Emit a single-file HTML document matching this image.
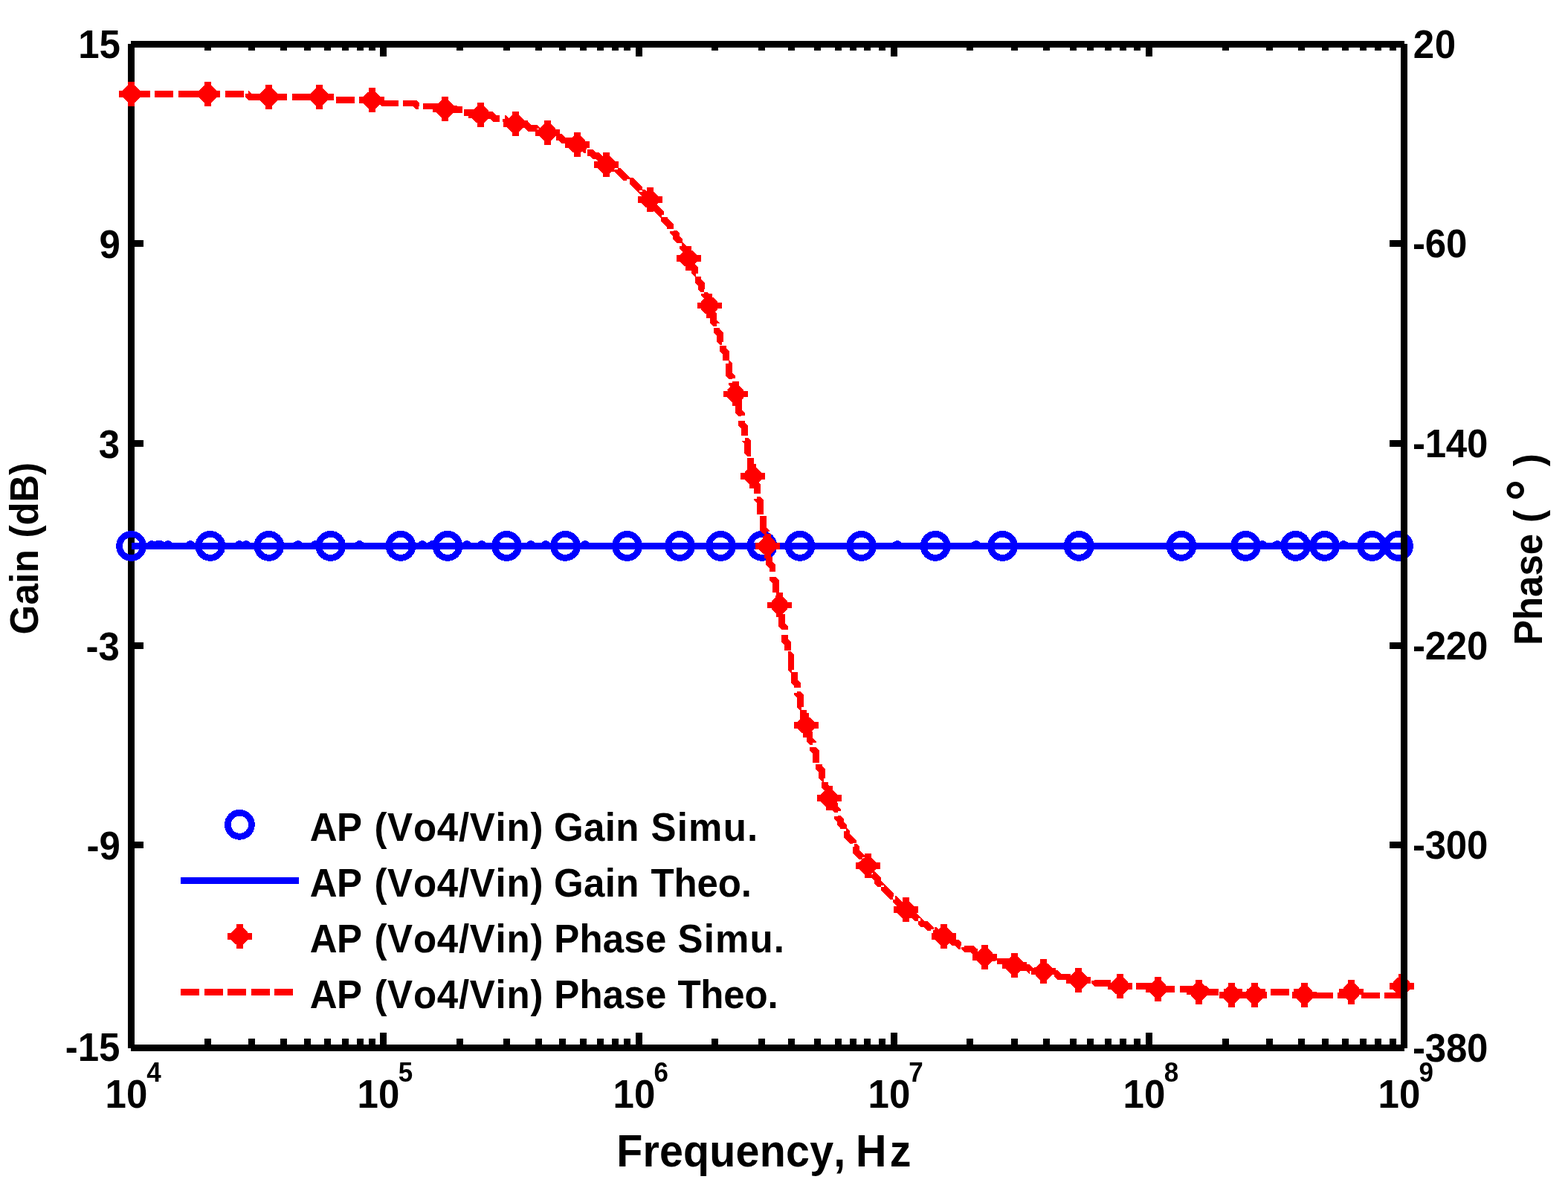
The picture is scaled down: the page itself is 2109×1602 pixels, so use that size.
<!DOCTYPE html>
<html lang="en"><head><meta charset="utf-8"><title>AP (Vo4/Vin) Gain and Phase</title>
<style>
html,body{margin:0;padding:0;background:#fff;}
body{width:2109px;height:1602px;overflow:hidden;}
svg{display:block;}
text{font-family:"Liberation Sans",Arial,Helvetica,sans-serif;font-weight:bold;fill:#000;font-kerning:none;white-space:pre;}
.blk{fill:#000;}
</style></head><body>
<svg width="2109" height="1602" viewBox="0 0 2109 1602" shape-rendering="crispEdges">
<rect x="0" y="0" width="2109" height="1602" fill="#fff"/>
<g class="blk" shape-rendering="crispEdges">
<rect x="172" y="59" width="9" height="1351"/>
<rect x="176" y="55" width="1713" height="9"/>
<rect x="176" y="1405" width="1713" height="9"/>
<rect x="275" y="63" width="9" height="5"/>
<rect x="275" y="1397" width="9" height="9"/>
<rect x="334" y="63" width="9" height="5"/>
<rect x="334" y="1397" width="9" height="9"/>
<rect x="377" y="63" width="9" height="5"/>
<rect x="377" y="1397" width="9" height="9"/>
<rect x="409" y="63" width="9" height="5"/>
<rect x="409" y="1397" width="9" height="9"/>
<rect x="436" y="63" width="9" height="5"/>
<rect x="436" y="1397" width="9" height="9"/>
<rect x="460" y="63" width="9" height="5"/>
<rect x="460" y="1397" width="9" height="9"/>
<rect x="480" y="63" width="9" height="5"/>
<rect x="480" y="1397" width="9" height="9"/>
<rect x="496" y="63" width="9" height="5"/>
<rect x="496" y="1397" width="9" height="9"/>
<rect x="614" y="63" width="9" height="5"/>
<rect x="614" y="1397" width="9" height="9"/>
<rect x="677" y="63" width="9" height="5"/>
<rect x="677" y="1397" width="9" height="9"/>
<rect x="720" y="63" width="9" height="5"/>
<rect x="720" y="1397" width="9" height="9"/>
<rect x="752" y="63" width="9" height="5"/>
<rect x="752" y="1397" width="9" height="9"/>
<rect x="780" y="63" width="9" height="5"/>
<rect x="780" y="1397" width="9" height="9"/>
<rect x="803" y="63" width="9" height="5"/>
<rect x="803" y="1397" width="9" height="9"/>
<rect x="823" y="63" width="9" height="5"/>
<rect x="823" y="1397" width="9" height="9"/>
<rect x="839" y="63" width="9" height="5"/>
<rect x="839" y="1397" width="9" height="9"/>
<rect x="957" y="63" width="9" height="5"/>
<rect x="957" y="1397" width="9" height="9"/>
<rect x="1020" y="63" width="9" height="5"/>
<rect x="1020" y="1397" width="9" height="9"/>
<rect x="1060" y="63" width="9" height="5"/>
<rect x="1060" y="1397" width="9" height="9"/>
<rect x="1095" y="63" width="9" height="5"/>
<rect x="1095" y="1397" width="9" height="9"/>
<rect x="1123" y="63" width="9" height="5"/>
<rect x="1123" y="1397" width="9" height="9"/>
<rect x="1143" y="63" width="9" height="5"/>
<rect x="1143" y="1397" width="9" height="9"/>
<rect x="1162" y="63" width="9" height="5"/>
<rect x="1162" y="1397" width="9" height="9"/>
<rect x="1182" y="63" width="9" height="5"/>
<rect x="1182" y="1397" width="9" height="9"/>
<rect x="1300" y="63" width="9" height="5"/>
<rect x="1300" y="1397" width="9" height="9"/>
<rect x="1360" y="63" width="9" height="5"/>
<rect x="1360" y="1397" width="9" height="9"/>
<rect x="1403" y="63" width="9" height="5"/>
<rect x="1403" y="1397" width="9" height="9"/>
<rect x="1439" y="63" width="9" height="5"/>
<rect x="1439" y="1397" width="9" height="9"/>
<rect x="1462" y="63" width="9" height="5"/>
<rect x="1462" y="1397" width="9" height="9"/>
<rect x="1486" y="63" width="9" height="5"/>
<rect x="1486" y="1397" width="9" height="9"/>
<rect x="1506" y="63" width="9" height="5"/>
<rect x="1506" y="1397" width="9" height="9"/>
<rect x="1525" y="63" width="9" height="5"/>
<rect x="1525" y="1397" width="9" height="9"/>
<rect x="1644" y="63" width="9" height="5"/>
<rect x="1644" y="1397" width="9" height="9"/>
<rect x="1703" y="63" width="9" height="5"/>
<rect x="1703" y="1397" width="9" height="9"/>
<rect x="1746" y="63" width="9" height="5"/>
<rect x="1746" y="1397" width="9" height="9"/>
<rect x="1778" y="63" width="9" height="5"/>
<rect x="1778" y="1397" width="9" height="9"/>
<rect x="1805" y="63" width="9" height="5"/>
<rect x="1805" y="1397" width="9" height="9"/>
<rect x="1829" y="63" width="9" height="5"/>
<rect x="1829" y="1397" width="9" height="9"/>
<rect x="1849" y="63" width="9" height="5"/>
<rect x="1849" y="1397" width="9" height="9"/>
<rect x="1869" y="63" width="9" height="5"/>
<rect x="1869" y="1397" width="9" height="9"/>
<rect x="511" y="63" width="9" height="13"/>
<rect x="511" y="1389" width="9" height="17"/>
<rect x="855" y="63" width="9" height="13"/>
<rect x="855" y="1389" width="9" height="17"/>
<rect x="1198" y="63" width="9" height="13"/>
<rect x="1198" y="1389" width="9" height="17"/>
<rect x="1541" y="63" width="9" height="13"/>
<rect x="1541" y="1389" width="9" height="17"/>
<rect x="180" y="323" width="13" height="9"/>
<rect x="180" y="592" width="13" height="9"/>
<rect x="180" y="864" width="13" height="9"/>
<rect x="180" y="1132" width="13" height="9"/>
</g>
<g fill="none" stroke="#0000ff" stroke-width="8.8">
<line x1="176.5" y1="734.4" x2="1888.5" y2="734.4"/>
<path d="M199.5 734.4l4 -3h1l4 3M207.5 734.4l4 -3h1l4 3M211.5 734.4l4 -3h1l4 3M221.5 734.4l4 -3h1l4 3M251.5 734.4l4 -3h1l4 3M317.5 734.4l4 -3h1l4 3M326.5 734.4l4 -3h1l4 3M396.1 734.4l4 -3h1l4 3M419.5 734.4l4 -3h1l4 3M479 734.4l4 -3h1l4 3M563.5 734.4l4 -3h1l4 3M577 734.4l4 -3h1l4 3M623.5 734.4l4 -3h1l4 3M643.5 734.4l4 -3h1l4 3M663.5 734.4l4 -3h1l4 3M709.5 734.4l4 -3h1l4 3M729.5 734.4l4 -3h1l4 3M782.5 734.4l4 -3h1l4 3M1202.1 734.4l4 -3h1l4 3M1308.3 734.4l4 -3h1l4 3M1693.3 734.4l4 -3h1l4 3M1713.2 734.4l4 -3h1l4 3M1802.9 734.4l4 -3h1l4 3" stroke-linejoin="bevel"/>
<circle cx="176.6" cy="734.4" r="16"/>
<circle cx="282.8" cy="734.4" r="16"/>
<circle cx="361.8" cy="734.4" r="16"/>
<circle cx="444.7" cy="734.4" r="16"/>
<circle cx="539" cy="734.4" r="16"/>
<circle cx="602" cy="734.4" r="16"/>
<circle cx="681.4" cy="734.4" r="16"/>
<circle cx="760.4" cy="734.4" r="16"/>
<circle cx="843.5" cy="734.4" r="16"/>
<circle cx="914.4" cy="734.4" r="16"/>
<circle cx="969.4" cy="734.4" r="16"/>
<circle cx="1024.8" cy="734.4" r="16"/>
<circle cx="1076" cy="734.4" r="16"/>
<circle cx="1158.5" cy="734.4" r="16"/>
<circle cx="1258.1" cy="734.4" r="16"/>
<circle cx="1348.4" cy="734.4" r="16"/>
<circle cx="1451.2" cy="734.4" r="16"/>
<circle cx="1589" cy="734.4" r="16"/>
<circle cx="1675.6" cy="734.4" r="16"/>
<circle cx="1742.7" cy="734.4" r="16"/>
<circle cx="1781.5" cy="734.4" r="16"/>
<circle cx="1845.5" cy="734.4" r="16"/>
<circle cx="1880.4" cy="734.4" r="16"/>
</g>
<path d="M176.5 126.4 L334.83 126.4 L334.83 130.57 L451.5 130.57 L451.5 134.73 L514 134.73 L514 138.9 L559.83 138.9 L559.83 143.07 L593.17 143.07 L593.17 147.23 L622.33 147.23 L622.33 151.4 L643.17 151.4 L643.17 155.57 L664 155.57 L664 159.73 L680.67 159.73 L680.67 163.9 L697.33 163.9 L697.33 168.07 L709.83 168.07 L709.83 172.23 L722.33 172.23 L722.33 176.4 L734.83 176.4 L734.83 180.57 L747.33 180.57 L747.33 184.73 L755.67 184.73 L755.67 188.9 L768.17 188.9 L768.17 193.07 L776.5 193.07 L776.5 197.23 L784.83 197.23 L784.83 201.4 L789 201.4 L789 205.57 L797.33 205.57 L797.33 209.73 L805.67 209.73 L805.67 213.9 L809.83 213.9 L809.83 218.07 L818.17 218.07 L818.17 222.23 L822.33 222.23 L822.33 226.4 L830.67 226.4 L830.67 230.57 L834.83 230.57 L834.83 234.73 L839 234.73 L839 238.9 L843.17 238.9 L843.17 243.07 L851.5 243.07 L851.5 247.23 L855.67 247.23 L855.67 251.4 L859.83 251.4 L859.83 255.57 L864 255.57 L864 259.73 L868.17 259.73 L868.17 263.9 L872.33 263.9 L872.33 272.23 L876.5 272.23 L876.5 276.4 L880.67 276.4 L880.67 280.57 L884.83 280.57 L884.83 284.73 L889 284.73 L889 288.9 L893.17 288.9 L893.17 297.23 L897.33 297.23 L897.33 301.4 L901.5 301.4 L901.5 309.73 L905.67 309.73 L905.67 313.9 L909.83 313.9 L909.83 322.23 L914 322.23 L914 330.57 L918.17 330.57 L918.17 334.73 L922.33 334.73 L922.33 343.07 L926.5 343.07 L926.5 351.4 L930.67 351.4 L930.67 359.73 L934.83 359.73 L934.83 368.07 L939 368.07 L939 380.57 L943.17 380.57 L943.17 388.9 L947.33 388.9 L947.33 397.23 L951.5 397.23 L951.5 409.73 L955.67 409.73 L955.67 422.23 L959.83 422.23 L959.83 434.73 L964 434.73 L964 447.23 L968.17 447.23 L968.17 459.73 L972.33 459.73 L972.33 472.23 L976.5 472.23 L976.5 488.9 L980.67 488.9 L980.67 505.57 L984.83 505.57 L984.83 518.07 L989 518.07 L989 534.73 L993.17 534.73 L993.17 555.57 L997.33 555.57 L997.33 572.23 L1001.5 572.23 L1001.5 593.07 L1005.67 593.07 L1005.67 609.73 L1009.83 609.73 L1009.83 630.57 L1014 630.57 L1014 651.4 L1018.17 651.4 L1018.17 672.23 L1022.33 672.23 L1022.33 693.07 L1026.5 693.07 L1026.5 713.9 L1030.67 713.9 L1030.67 738.9 L1034.83 738.9 L1034.83 759.73 L1039 759.73 L1039 780.57 L1043.17 780.57 L1043.17 801.4 L1047.33 801.4 L1047.33 822.23 L1051.5 822.23 L1051.5 843.07 L1055.67 843.07 L1055.67 863.9 L1059.83 863.9 L1059.83 880.57 L1064 880.57 L1064 901.4 L1068.17 901.4 L1068.17 918.07 L1072.33 918.07 L1072.33 934.73 L1076.5 934.73 L1076.5 951.4 L1080.67 951.4 L1080.67 968.07 L1084.83 968.07 L1084.83 984.73 L1089 984.73 L1089 997.23 L1093.17 997.23 L1093.17 1009.73 L1097.33 1009.73 L1097.33 1026.4 L1101.5 1026.4 L1101.5 1034.73 L1105.67 1034.73 L1105.67 1047.23 L1109.83 1047.23 L1109.83 1059.73 L1114 1059.73 L1114 1072.23 L1118.17 1072.23 L1118.17 1080.57 L1122.33 1080.57 L1122.33 1088.9 L1126.5 1088.9 L1126.5 1101.4 L1130.67 1101.4 L1130.67 1109.73 L1134.83 1109.73 L1134.83 1118.07 L1139 1118.07 L1139 1126.4 L1143.17 1126.4 L1143.17 1130.57 L1147.33 1130.57 L1147.33 1138.9 L1151.5 1138.9 L1151.5 1147.23 L1155.67 1147.23 L1155.67 1151.4 L1159.83 1151.4 L1159.83 1159.73 L1164 1159.73 L1164 1163.9 L1168.17 1163.9 L1168.17 1172.23 L1172.33 1172.23 L1172.33 1176.4 L1176.5 1176.4 L1176.5 1180.57 L1180.67 1180.57 L1180.67 1188.9 L1184.83 1188.9 L1184.83 1193.07 L1189 1193.07 L1189 1197.23 L1193.17 1197.23 L1193.17 1201.4 L1197.33 1201.4 L1197.33 1205.57 L1201.5 1205.57 L1201.5 1209.73 L1205.67 1209.73 L1205.67 1213.9 L1209.83 1213.9 L1209.83 1218.07 L1214 1218.07 L1214 1222.23 L1218.17 1222.23 L1218.17 1226.4 L1222.33 1226.4 L1222.33 1230.57 L1230.67 1230.57 L1230.67 1234.73 L1234.83 1234.73 L1234.83 1238.9 L1239 1238.9 L1239 1243.07 L1247.33 1243.07 L1247.33 1247.23 L1251.5 1247.23 L1251.5 1251.4 L1259.83 1251.4 L1259.83 1255.57 L1268.17 1255.57 L1268.17 1259.73 L1272.33 1259.73 L1272.33 1263.9 L1280.67 1263.9 L1280.67 1268.07 L1289 1268.07 L1289 1272.23 L1297.33 1272.23 L1297.33 1276.4 L1309.83 1276.4 L1309.83 1280.57 L1318.17 1280.57 L1318.17 1284.73 L1330.67 1284.73 L1330.67 1288.9 L1339 1288.9 L1339 1293.07 L1355.67 1293.07 L1355.67 1297.23 L1368.17 1297.23 L1368.17 1301.4 L1384.83 1301.4 L1384.83 1305.57 L1401.5 1305.57 L1401.5 1309.73 L1422.33 1309.73 L1422.33 1313.9 L1447.33 1313.9 L1447.33 1318.07 L1472.33 1318.07 L1472.33 1322.23 L1509.83 1322.23 L1509.83 1326.4 L1555.67 1326.4 L1555.67 1330.57 L1622.33 1330.57 L1622.33 1334.73 L1751.5 1334.73 L1751.5 1338.9 L1889 1338.9" fill="none" stroke="#ff0000" stroke-width="8.8" stroke-dasharray="25 6.5" stroke-linejoin="bevel"/>
<path d="M160.1 126.4h33M176.6 109.9v33M168.5 118.3l16.2 16.2M168.5 134.5l16.2 -16.2M263 126.4h33M279.5 109.9v33M271.4 118.3l16.2 16.2M271.4 134.5l16.2 -16.2M345 130.4h33M361.5 113.9v33M353.4 122.3l16.2 16.2M353.4 138.5l16.2 -16.2M412.9 130.4h33M429.4 113.9v33M421.3 122.3l16.2 16.2M421.3 138.5l16.2 -16.2M483.8 134.6h33M500.3 118.1v33M492.2 126.5l16.2 16.2M492.2 142.7l16.2 -16.2M581.9 146.6h33M598.4 130.1v33M590.3 138.5l16.2 16.2M590.3 154.7l16.2 -16.2M629.9 154.3h33M646.4 137.8v33M638.3 146.2l16.2 16.2M638.3 162.4l16.2 -16.2M676.9 166.4h33M693.4 149.9v33M685.3 158.3l16.2 16.2M685.3 174.5l16.2 -16.2M719.8 178.1h33M736.3 161.6v33M728.2 170l16.2 16.2M728.2 186.2l16.2 -16.2M759.8 194.2h33M776.3 177.7v33M768.2 186.1l16.2 16.2M768.2 202.3l16.2 -16.2M798.9 221.5h33M815.4 205v33M807.3 213.4l16.2 16.2M807.3 229.6l16.2 -16.2M857.7 268.5h33M874.2 252v33M866.1 260.4l16.2 16.2M866.1 276.6l16.2 -16.2M909.5 347.5h33M926 331v33M917.9 339.4l16.2 16.2M917.9 355.6l16.2 -16.2M937.5 411h33M954 394.5v33M945.9 402.9l16.2 16.2M945.9 419.1l16.2 -16.2M972.8 529.9h33M989.3 513.4v33M981.2 521.8l16.2 16.2M981.2 538l16.2 -16.2M996.3 640.2h33M1012.8 623.7v33M1004.7 632.1l16.2 16.2M1004.7 648.3l16.2 -16.2M1015.8 734.3h33M1032.3 717.8v33M1024.2 726.2l16.2 16.2M1024.2 742.4l16.2 -16.2M1032 813.9h33M1048.5 797.4v33M1040.4 805.8l16.2 16.2M1040.4 822l16.2 -16.2M1067.5 975.5h33M1084 959v33M1075.9 967.4l16.2 16.2M1075.9 983.6l16.2 -16.2M1098.8 1073.6h33M1115.3 1057.1v33M1107.2 1065.5l16.2 16.2M1107.2 1081.7l16.2 -16.2M1150.6 1164.7h33M1167.1 1148.2v33M1159 1156.6l16.2 16.2M1159 1172.8l16.2 -16.2M1201.8 1223.6h33M1218.3 1207.1v33M1210.2 1215.5l16.2 16.2M1210.2 1231.7l16.2 -16.2M1253 1259.4h33M1269.5 1242.9v33M1261.4 1251.3l16.2 16.2M1261.4 1267.5l16.2 -16.2M1308 1287.1h33M1324.5 1270.6v33M1316.4 1279l16.2 16.2M1316.4 1295.2l16.2 -16.2M1347.8 1298.5h33M1364.3 1282v33M1356.2 1290.4l16.2 16.2M1356.2 1306.6l16.2 -16.2M1387.1 1306.7h33M1403.6 1290.2v33M1395.5 1298.6l16.2 16.2M1395.5 1314.8l16.2 -16.2M1434.1 1318.4h33M1450.6 1301.9v33M1442.5 1310.3l16.2 16.2M1442.5 1326.5l16.2 -16.2M1489.9 1326.3h33M1506.4 1309.8v33M1498.3 1318.2l16.2 16.2M1498.3 1334.4l16.2 -16.2M1541 1330.2h33M1557.5 1313.7v33M1549.4 1322.1l16.2 16.2M1549.4 1338.3l16.2 -16.2M1596 1334h33M1612.5 1317.5v33M1604.4 1325.9l16.2 16.2M1604.4 1342.1l16.2 -16.2M1640 1338.2h33M1656.5 1321.7v33M1648.4 1330.1l16.2 16.2M1648.4 1346.3l16.2 -16.2M1670.9 1338.2h33M1687.4 1321.7v33M1679.3 1330.1l16.2 16.2M1679.3 1346.3l16.2 -16.2M1738 1338.2h33M1754.5 1321.7v33M1746.4 1330.1l16.2 16.2M1746.4 1346.3l16.2 -16.2M1801.2 1334h33M1817.7 1317.5v33M1809.6 1325.9l16.2 16.2M1809.6 1342.1l16.2 -16.2M1868.5 1326.2h33M1885 1309.7v33M1876.9 1318.1l16.2 16.2M1876.9 1334.3l16.2 -16.2" fill="none" stroke="#ff0000" stroke-width="8.8"/>
<g class="blk" shape-rendering="crispEdges">
<rect x="1884" y="59" width="9" height="1351"/>
<rect x="1869" y="323" width="16" height="9"/>
<rect x="1869" y="592" width="16" height="9"/>
<rect x="1869" y="864" width="16" height="9"/>
<rect x="1869" y="1132" width="16" height="9"/>
</g>
<circle cx="322.4" cy="1109.3" r="16" fill="none" stroke="#0000ff" stroke-width="8.8"/>
<line x1="243" y1="1184.5" x2="402" y2="1184.5" stroke="#0000ff" stroke-width="8.8"/>
<path d="M305.9 1259.3h33M322.4 1242.8v33M314.3 1251.2l16.2 16.2M314.3 1267.4l16.2 -16.2" fill="none" stroke="#ff0000" stroke-width="8.8"/>
<line x1="243" y1="1334.5" x2="394.5" y2="1334.5" stroke="#ff0000" stroke-width="8.8" stroke-dasharray="25 6.5"/>
<text transform="translate(0 1130.8) scale(1 1.05)"><tspan x="416.65" y="0" style="font-size:51px;letter-spacing:-0.55px;">AP </tspan><tspan x="503.4" y="0" style="font-size:51px;letter-spacing:0.75px;">(Vo4/Vin) </tspan><tspan x="745" y="0" style="font-size:51px;letter-spacing:0.35px;">Gain </tspan><tspan x="875.4" y="0" style="font-size:51px;letter-spacing:1.24px;">Simu.</tspan></text>
<text transform="translate(0 1205.8) scale(1 1.05)"><tspan x="416.65" y="0" style="font-size:51px;letter-spacing:-0.55px;">AP </tspan><tspan x="503.4" y="0" style="font-size:51px;letter-spacing:0.75px;">(Vo4/Vin) </tspan><tspan x="745" y="0" style="font-size:51px;letter-spacing:0.35px;">Gain </tspan><tspan x="875.5" y="0" style="font-size:51px;letter-spacing:-0.15px;">Theo.</tspan></text>
<text transform="translate(0 1280.8) scale(1 1.05)"><tspan x="416.65" y="0" style="font-size:51px;letter-spacing:-0.55px;">AP </tspan><tspan x="503.4" y="0" style="font-size:51px;letter-spacing:0.75px;">(Vo4/Vin) </tspan><tspan x="745.3" y="0" style="font-size:51px;letter-spacing:0.18px;">Phase </tspan><tspan x="911.5" y="0" style="font-size:51px;letter-spacing:1.16px;">Simu.</tspan></text>
<text transform="translate(0 1355.8) scale(1 1.05)"><tspan x="416.65" y="0" style="font-size:51px;letter-spacing:-0.55px;">AP </tspan><tspan x="503.4" y="0" style="font-size:51px;letter-spacing:0.75px;">(Vo4/Vin) </tspan><tspan x="745.3" y="0" style="font-size:51px;letter-spacing:0.18px;">Phase </tspan><tspan x="911.4" y="0" style="font-size:51px;letter-spacing:-0.17px;">Theo.</tspan></text>
<text transform="translate(0 78) scale(1 1.05)"><tspan x="105.25" y="0" style="font-size:51px;">15</tspan></text>
<text transform="translate(0 346.5) scale(1 1.05)"><tspan x="133.6" y="0" style="font-size:51px;">9</tspan></text>
<text transform="translate(0 615.5) scale(1 1.05)"><tspan x="132.7" y="0" style="font-size:51px;">3</tspan></text>
<text transform="translate(0 887.5) scale(1 1.05)"><tspan x="115.5" y="0" style="font-size:51px;">-3</tspan></text>
<text transform="translate(0 1155.5) scale(1 1.05)"><tspan x="116.4" y="0" style="font-size:51px;">-9</tspan></text>
<text transform="translate(0 1427) scale(1 1.05)"><tspan x="87.75" y="0" style="font-size:51px;">-15</tspan></text>
<text transform="translate(0 77.6) scale(1 1.05)"><tspan x="1900.85" y="0" style="font-size:51px;letter-spacing:0.6px;">20</tspan></text>
<text transform="translate(0 346.4) scale(1 1.05)"><tspan x="1900" y="0" style="font-size:51px;letter-spacing:-0.2px;">-60</tspan></text>
<text transform="translate(0 615) scale(1 1.05)"><tspan x="1900" y="0" style="font-size:51px;letter-spacing:-0.27px;">-140</tspan></text>
<text transform="translate(0 887) scale(1 1.05)"><tspan x="1900" y="0" style="font-size:51px;letter-spacing:-0.27px;">-220</tspan></text>
<text transform="translate(0 1155) scale(1 1.05)"><tspan x="1900" y="0" style="font-size:51px;letter-spacing:-0.27px;">-300</tspan></text>
<text transform="translate(0 1428) scale(1 1.05)"><tspan x="1900" y="0" style="font-size:51px;letter-spacing:-0.23px;">-380</tspan></text>
<text transform="translate(0 1490) scale(1 1.05)"><tspan x="141.55" y="0" style="font-size:51px;">10</tspan><tspan x="197.3" y="-33.33" style="font-size:35px;">4</tspan></text>
<text transform="translate(0 1490) scale(1 1.05)"><tspan x="480.55" y="0" style="font-size:51px;">10</tspan><tspan x="535.8" y="-33.33" style="font-size:35px;">5</tspan></text>
<text transform="translate(0 1490) scale(1 1.05)"><tspan x="824.55" y="0" style="font-size:51px;">10</tspan><tspan x="879.55" y="-33.33" style="font-size:35px;">6</tspan></text>
<text transform="translate(0 1490) scale(1 1.05)"><tspan x="1167.55" y="0" style="font-size:51px;">10</tspan><tspan x="1222.3" y="-33.33" style="font-size:35px;">7</tspan></text>
<text transform="translate(0 1490) scale(1 1.05)"><tspan x="1510.55" y="0" style="font-size:51px;">10</tspan><tspan x="1565.8" y="-33.33" style="font-size:35px;">8</tspan></text>
<text transform="translate(0 1490) scale(1 1.05)"><tspan x="1853.55" y="0" style="font-size:51px;">10</tspan><tspan x="1908.55" y="-33.33" style="font-size:35px;">9</tspan></text>
<text transform="translate(0 1568.9) scale(1 1.05)"><tspan x="829.15" y="0" style="font-size:57.4px;letter-spacing:0.21px;">Frequency, </tspan><tspan x="1151.05" y="0" style="font-size:57.4px;letter-spacing:4.35px;">Hz</tspan></text>
<text transform="translate(50.6 851.4) rotate(-90) scale(1 1.05)"><tspan x="-2" y="0" style="font-size:51px;letter-spacing:0.28px;">Gain </tspan><tspan x="128" y="0" style="font-size:51px;letter-spacing:-0.15px;">(dB)</tspan></text>
<text transform="translate(2074.1 864.6) rotate(-90) scale(1 1.05)"><tspan x="-3.5" y="0" style="font-size:51px;">Phase </tspan><tspan x="161.7" y="0" style="font-size:51px;">( </tspan><tspan x="190.65" y="5.9" style="font-size:73px;">° </tspan><tspan x="237.35" y="0" style="font-size:51px;">)</tspan></text>
</svg></body></html>
